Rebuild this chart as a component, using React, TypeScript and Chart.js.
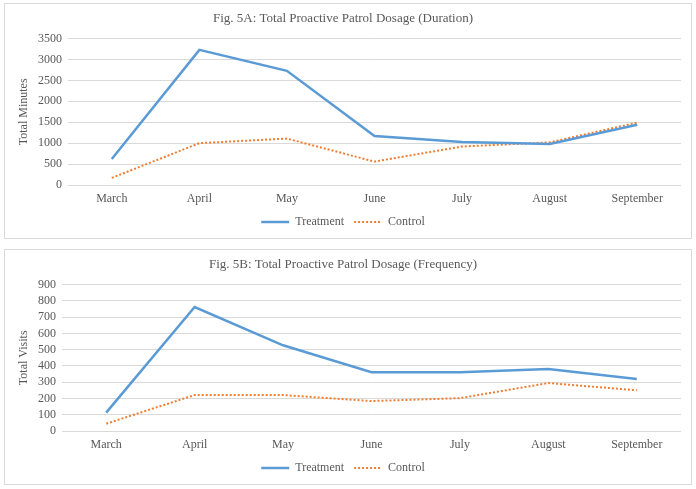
import React, { useEffect, useRef } from "react";
import { Chart, registerables } from "chart.js";

Chart.register(...registerables);

const months = ["March", "April", "May", "June", "July", "August", "September"];

const minutesTreatment = [620, 3230, 2730, 1170, 1030, 980, 1440];
const minutesControl = [170, 1000, 1110, 560, 920, 1020, 1490];

const visitsTreatment = [113, 762, 527, 361, 361, 381, 320];
const visitsControl = [45, 221, 221, 184, 202, 295, 250];

const FONT = "'Liberation Serif', 'Times New Roman', serif";
const TEXT = "#595959";
const GRID = "#D9D9D9";

interface PanelProps {
  title: string;
  yTitle: string;
  treatment: number[];
  control: number[];
  yMax: number;
  yStep: number;
  axisWidth: number;
  top: number;
}

const Panel: React.FC<PanelProps> = ({ title, yTitle, treatment, control, yMax, yStep, axisWidth, top }) => {
  const canvasRef = useRef<HTMLCanvasElement | null>(null);

  useEffect(() => {
    if (!canvasRef.current) return;

    const chart = new Chart(canvasRef.current, {
      type: "line",
      data: {
        labels: months,
        datasets: [
          {
            label: "Treatment",
            data: treatment,
            borderColor: "#5B9BD5",
            backgroundColor: "#5B9BD5",
            borderWidth: 2.5,
            pointRadius: 0,
            tension: 0,
          },
          {
            label: "Control",
            data: control,
            borderColor: "#ED7D31",
            backgroundColor: "#ED7D31",
            borderWidth: 2,
            borderDash: [2, 2],
            pointRadius: 0,
            tension: 0,
          },
        ],
      },
      options: {
        animation: false,
        responsive: true,
        maintainAspectRatio: false,
        layout: { padding: { left: 0, right: 10, top: 0, bottom: 0 } },
        plugins: {
          title: {
            display: true,
            text: title,
            color: TEXT,
            font: { family: FONT, size: 13, weight: "normal" },
            padding: { top: 7, bottom: 12 },
          },
          legend: {
            position: "bottom",
            labels: {
              color: TEXT,
              font: { family: FONT, size: 12 },
              usePointStyle: true,
              pointStyle: "line",
              pointStyleWidth: 28,
              padding: 10,
              // point styles carry no dash, so copy the line's own style
              generateLabels: (c) =>
                Chart.defaults.plugins.legend.labels.generateLabels(c).map((item) => {
                  const ds: any = c.data.datasets[item.datasetIndex as number];
                  return {
                    ...item,
                    lineDash: ds.borderDash || [],
                    lineWidth: ds.borderWidth,
                    strokeStyle: ds.borderColor,
                  };
                }),
            },
          },
          tooltip: { enabled: false },
        },
        scales: {
          x: {
            offset: true,
            afterFit: (scale) => {
              scale.height = 21;
            },
            grid: { display: false, drawTicks: false },
            border: { display: false },
            ticks: { color: TEXT, font: { family: FONT, size: 12 }, padding: 7, maxRotation: 0 },
          },
          y: {
            min: 0,
            max: yMax,
            afterFit: (scale) => {
              scale.width = axisWidth;
            },
            grid: { color: GRID, drawTicks: false },
            border: { display: false },
            ticks: {
              stepSize: yStep,
              autoSkip: false,
              color: TEXT,
              font: { family: FONT, size: 12 },
              padding: 6,
              callback: (v) => String(v),
            },
            title: {
              display: true,
              text: yTitle,
              color: TEXT,
              font: { family: FONT, size: 12 },
              padding: { top: 12, bottom: 0 },
            },
          },
        },
      },
    });

    return () => {
      chart.destroy();
    };
  }, [title, yTitle, treatment, control, yMax, yStep, axisWidth]);

  return (
    <div
      style={{
        position: "absolute",
        left: 4,
        top,
        width: 686,
        height: 234,
        border: "1px solid #D9D9D9",
        background: "#fff",
      }}
    >
      <div style={{ position: "relative", width: 686, height: 234 }}>
        <canvas ref={canvasRef} />
      </div>
    </div>
  );
};

const App: React.FC = () => {
  return (
    <div style={{ position: "absolute", left: 0, top: 0, width: 696, height: 489, background: "#fff" }}>
      <Panel
        title="Fig. 5A: Total Proactive Patrol Dosage (Duration)"
        yTitle="Total Minutes"
        treatment={minutesTreatment}
        control={minutesControl}
        yMax={3500}
        yStep={500}
        axisWidth={63}
        top={3}
      />
      <Panel
        title="Fig. 5B: Total Proactive Patrol Dosage (Frequency)"
        yTitle="Total Visits"
        treatment={visitsTreatment}
        control={visitsControl}
        yMax={900}
        yStep={100}
        axisWidth={57}
        top={249}
      />
    </div>
  );
};

export default App;
